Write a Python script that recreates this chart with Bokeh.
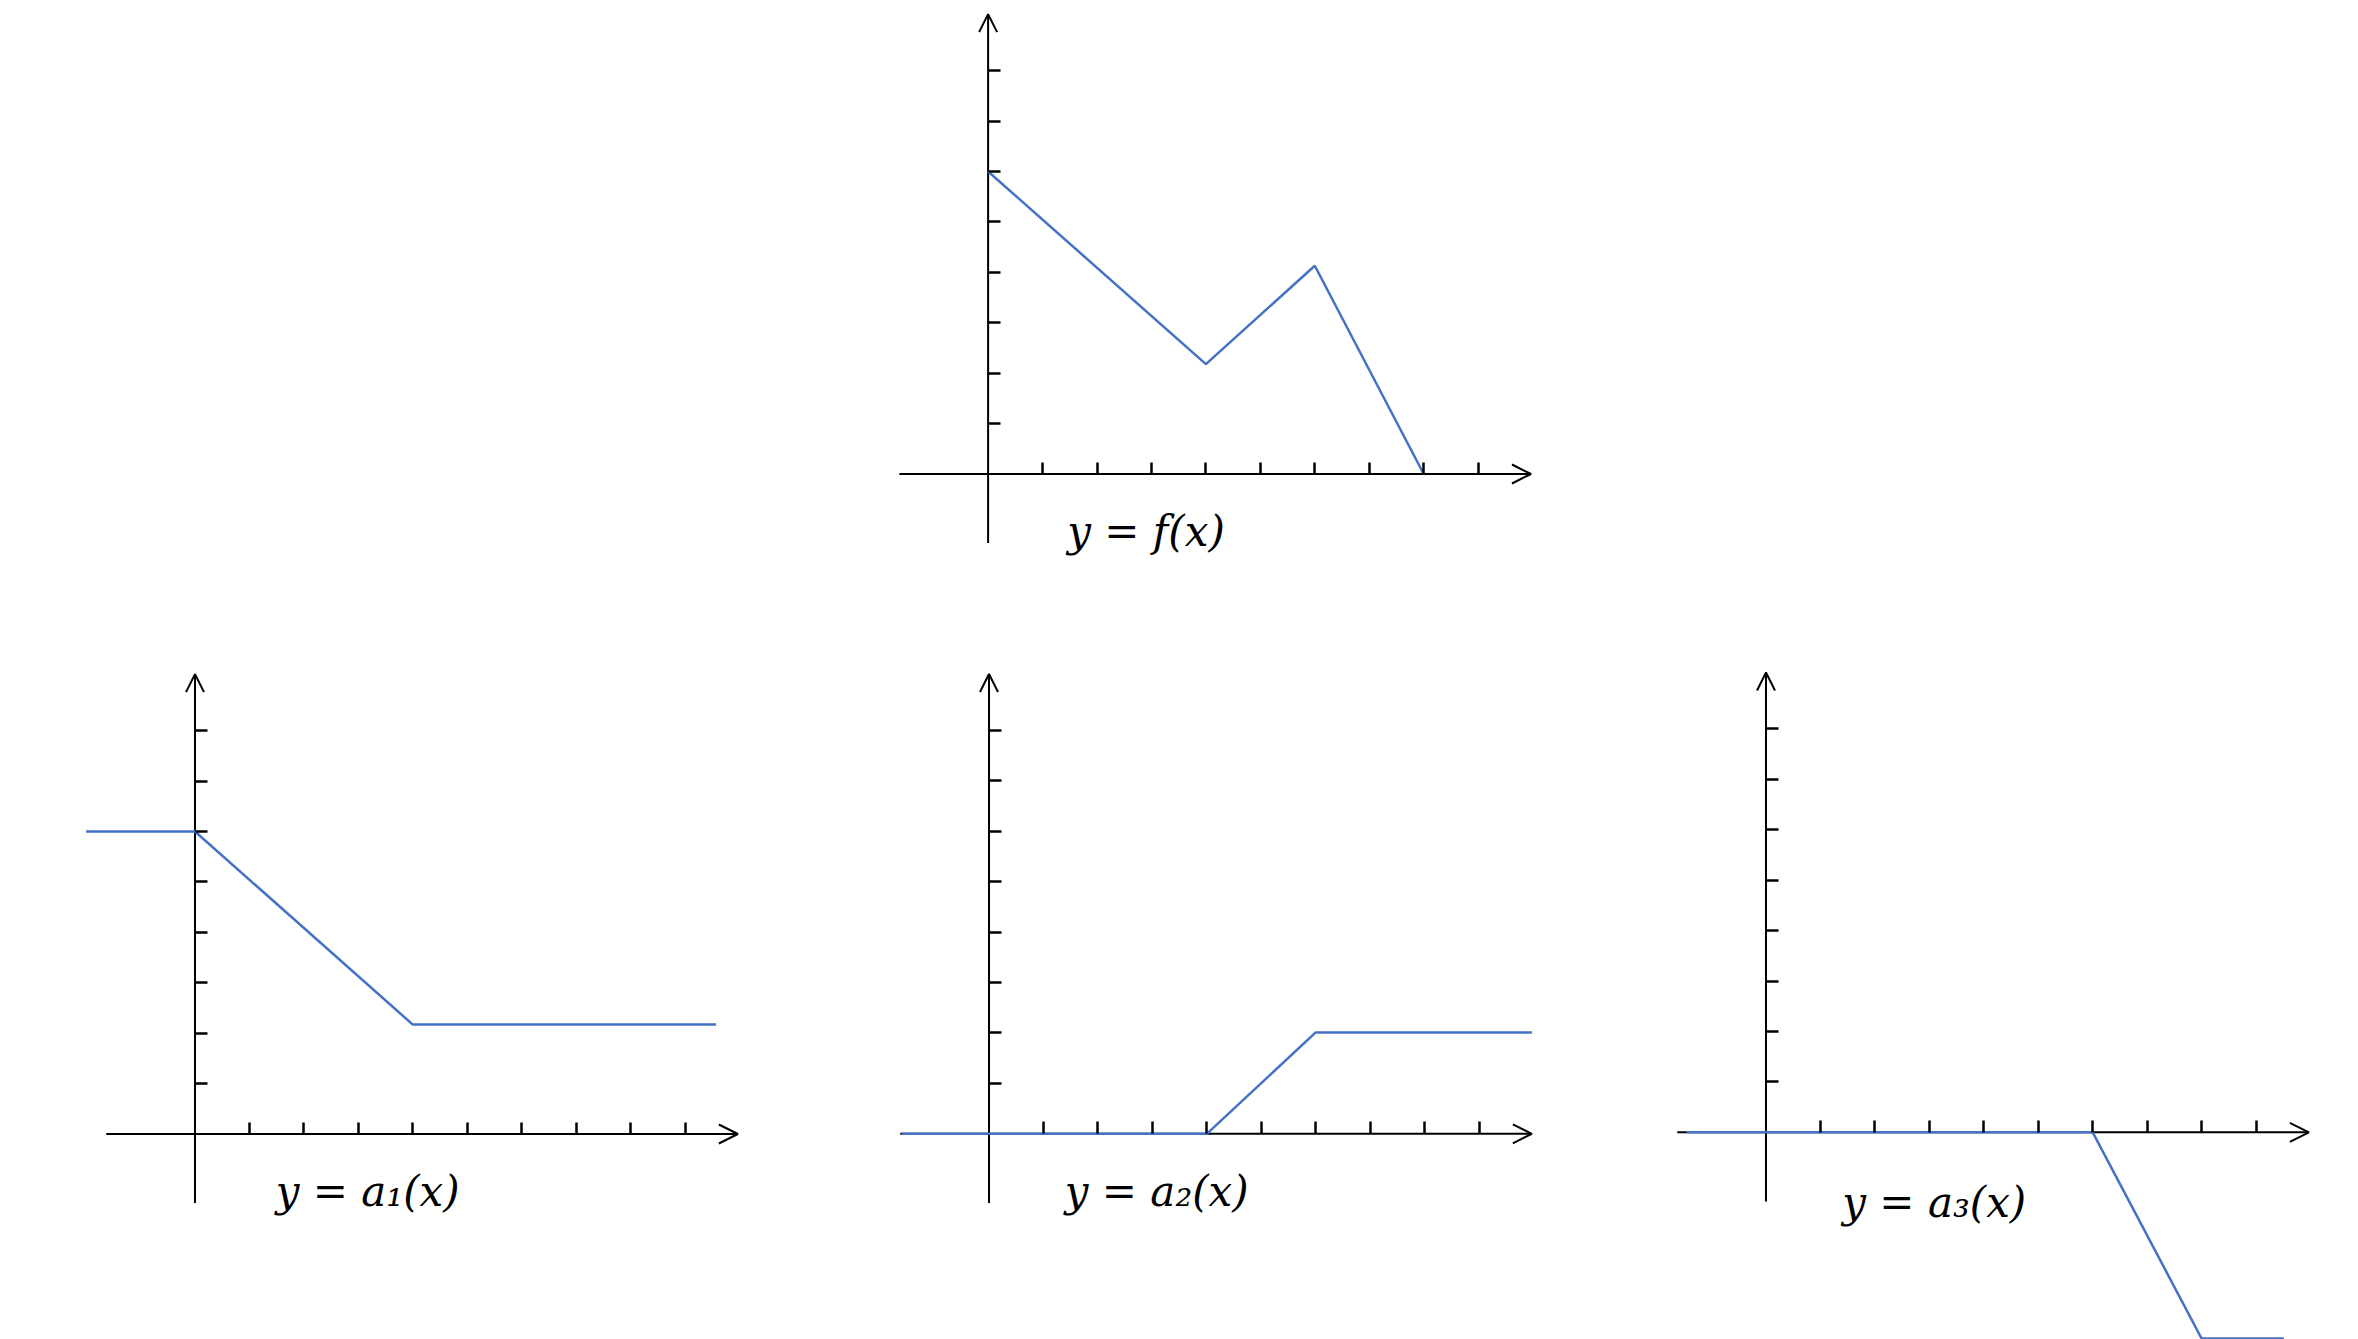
from bokeh.plotting import figure
from bokeh.models import Range1d, LinearAxis, FixedTicker, Arrow, OpenHead, Label, Spacer
from bokeh.layouts import column, row
from bokeh.embed import file_html
from bokeh.resources import INLINE

# ---------------- data ----------------
x_ticks = [1, 2, 3, 4, 5, 6, 7, 8, 9]
y_ticks = [1, 2, 3, 4, 5, 6, 7, 8]

f_x = [0, 4, 6, 8]
f_y = [6, 2.18, 4.13, 0]

a1_x = [-2, 0, 4, 9.57]
a1_y = [6, 6, 2.17, 2.17]

a2_x = [-1.6, 4, 6, 9.97]
a2_y = [0, 0, 2.01, 2.01]

a3_x = [-1.46, 6, 8, 9.51]
a3_y = [0, 0, -4.09, -4.09]

labels = ["y = f(x)", "y = a\u2081(x)", "y = a\u2082(x)", "y = a\u2083(x)"]

# ---------------- geometry (pixels per unit, axis extents) ----------------
UX = 54.45
UY = 50.42
X_AX = (-1.63, 9.97)
Y_AX = (-1.37, 9.12)
BLUE = "#4472C4"


def panel(w, h, ox, oy, xs, ys, text, lx, ly):
    p = figure(width=w, height=h,
               x_range=Range1d(-ox / UX, (w - ox) / UX),
               y_range=Range1d(-(h - oy) / UY, oy / UY),
               output_backend="svg", toolbar_location=None,
               x_axis_location=None, y_axis_location=None,
               min_border=0, outline_line_color=None,
               background_fill_color="white", border_fill_color="white")
    p.xgrid.visible = False
    p.ygrid.visible = False

    xa = LinearAxis(fixed_location=0, ticker=FixedTicker(ticks=x_ticks),
                    major_tick_in=12, major_tick_out=0,
                    minor_tick_in=0, minor_tick_out=0,
                    axis_line_color=None, major_tick_line_width=2.5,
                    major_tick_line_color="black",
                    major_label_overrides={t: "" for t in x_ticks})
    ya = LinearAxis(fixed_location=0, ticker=FixedTicker(ticks=y_ticks),
                    major_tick_in=12, major_tick_out=0,
                    minor_tick_in=0, minor_tick_out=0,
                    axis_line_color=None, major_tick_line_width=2.5,
                    major_tick_line_color="black",
                    major_label_overrides={t: "" for t in y_ticks})
    p.add_layout(xa, "below")
    p.add_layout(ya, "left")

    p.add_layout(Arrow(end=OpenHead(size=19, line_width=2, line_color="black"),
                       x_start=X_AX[0], y_start=0, x_end=X_AX[1], y_end=0,
                       line_width=2, line_color="black", level="underlay"))
    p.add_layout(Arrow(end=OpenHead(size=18, line_width=2, line_color="black"),
                       x_start=0, y_start=Y_AX[0], x_end=0, y_end=Y_AX[1],
                       line_width=2, line_color="black", level="underlay"))

    p.line(xs, ys, line_color=BLUE, line_width=2.5)

    p.add_layout(Label(x=lx, y=ly, text=text, text_font="DejaVu Serif",
                       text_font_style="italic", text_font_size="42px",
                       text_color="black", text_align="center",
                       text_baseline="middle"))
    return p


TOP_H = 580
BOT_H = 751

pf = panel(670, TOP_H, 107.6, 465.5, f_x, f_y, labels[0], 2.9, -1.15)
p1 = panel(862, BOT_H, 186.5, 545.5, a1_x, a1_y, labels[1], 3.17, -1.15)
p2 = panel(730, BOT_H, 118.5, 545.3, a2_x, a2_y, labels[2], 3.08, -1.15)
p3 = panel(750, BOT_H, 165.5, 543.8, a3_x, a3_y, labels[3], 3.09, -1.39)

layout = column(
    Spacer(width=8, height=8),
    row(Spacer(width=880, height=TOP_H), pf),
    row(Spacer(width=8, height=BOT_H), p1, p2, p3),
)

open("out.html", "w").write(file_html(layout, INLINE))
